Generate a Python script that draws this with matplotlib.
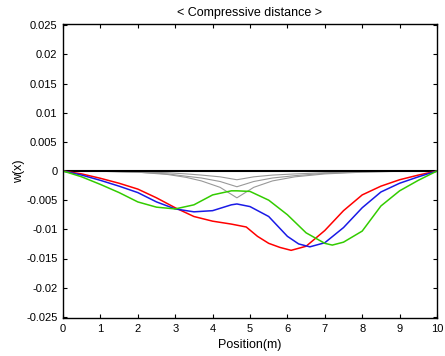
import matplotlib
matplotlib.use("Agg")
import matplotlib.pyplot as plt

plt.rcParams['font.family'] = ['Liberation Sans', 'DejaVu Sans']

# Colored deflection curves
red_x = [0, 0.5, 1, 1.5, 2, 2.5, 3, 3.5, 4, 4.5, 4.9, 5.2, 5.5, 5.8, 6.1, 6.5, 7, 7.5, 8, 8.5, 9, 9.5, 10]
red_y = [0, -0.0005, -0.00125, -0.0021, -0.0031, -0.0046, -0.0063, -0.0078, -0.0086, -0.0091, -0.0096,
         -0.0112, -0.0124, -0.0131, -0.0136, -0.0129, -0.0102, -0.0068, -0.0041, -0.0026, -0.0015, -0.0007, 0]

blue_x = [0, 0.5, 1, 1.5, 2, 2.5, 3, 3.5, 4, 4.5, 4.65, 5, 5.5, 6, 6.3, 6.6, 7, 7.5, 8, 8.5, 9, 9.5, 10]
blue_y = [0, -0.0007, -0.0016, -0.0026, -0.0037, -0.0053, -0.0065, -0.0070, -0.0068, -0.0058, -0.00565,
          -0.0061, -0.0078, -0.0112, -0.0125, -0.0130, -0.0123, -0.0097, -0.0063, -0.0036, -0.0021, -0.001, 0]

green_x = [0, 0.5, 1, 1.5, 2, 2.5, 3, 3.5, 4, 4.5, 4.65, 5, 5.5, 6, 6.5, 7, 7.2, 7.5, 8, 8.5, 9, 9.5, 10]
green_y = [0, -0.001, -0.0023, -0.0037, -0.0053, -0.0062, -0.0065, -0.0058, -0.0041, -0.0034, -0.0034,
           -0.0035, -0.005, -0.0075, -0.0106, -0.0124, -0.0127, -0.0122, -0.0103, -0.006, -0.0034, -0.0016, 0]

# Gray influence lines
gray_x = [0, 1.0, 2.0, 2.8, 3.3, 3.7, 4.2, 4.65, 5.1, 5.6, 6.2, 7.0, 8.0, 9.0, 10]
gray1_y = [0, -0.00003, -0.00015, -0.0003, -0.0005, -0.0007, -0.001, -0.0015, -0.001, -0.0007, -0.0005, -0.0003, -0.0001, -0.00003, 0]
gray2_y = [0, -0.00005, -0.0002, -0.0005, -0.0009, -0.0012, -0.0018, -0.0027, -0.0018, -0.0012, -0.0008, -0.0004, -0.00015, -0.00005, 0]
gray3_y = [0, -0.00005, -0.0002, -0.0006, -0.0011, -0.0017, -0.0028, -0.0046, -0.0028, -0.0017, -0.001, -0.0005, -0.0002, -0.00005, 0]

zero_x = [0, 10]
zero_y = [0, 0]

xticks = [0, 1, 2, 3, 4, 5, 6, 7, 8, 9, 10]
yticks = [-0.025, -0.02, -0.015, -0.01, -0.005, 0, 0.005, 0.01, 0.015, 0.02, 0.025]
ytick_labels = ['-0.025', '-0.02', '-0.015', '-0.01', '-0.005', '0', '0.005', '0.01', '0.015', '0.02', '0.025']

fig = plt.figure(figsize=(4.45, 3.56), dpi=100)
ax = fig.add_axes([63/445, 1-318/356, (437-63)/445, (318-24)/356])

for gy in (gray1_y, gray2_y, gray3_y):
    ax.plot(gray_x, gy, color='#999999', lw=0.8)
ax.plot(zero_x, zero_y, color='black', lw=1.5)
ax.plot(red_x, red_y, color='#ff0000', lw=1.1)
ax.plot(blue_x, blue_y, color='#1a1ae6', lw=1.1)
ax.plot(green_x, green_y, color='#33cc00', lw=1.1)

ax.set_xlim(0, 10)
ax.set_ylim(-0.0252, 0.0252)
ax.set_xticks(xticks)
ax.set_xticklabels([str(t) for t in xticks])
ax.set_yticks(yticks)
ax.set_yticklabels(ytick_labels)
ax.tick_params(direction='in', top=True, right=True, length=3, width=0.8, labelsize=8)
ax.tick_params(axis='y', pad=4)
ax.tick_params(axis='x', pad=4)
for s in ax.spines.values():
    s.set_linewidth(1.0)

ax.set_title('< Compressive distance >', fontsize=9, pad=6)
ax.set_xlabel('Position(m)', fontsize=9, labelpad=4)
ax.set_ylabel('w(x)', fontsize=9, labelpad=1)

fig.savefig('out.png', dpi=100)
